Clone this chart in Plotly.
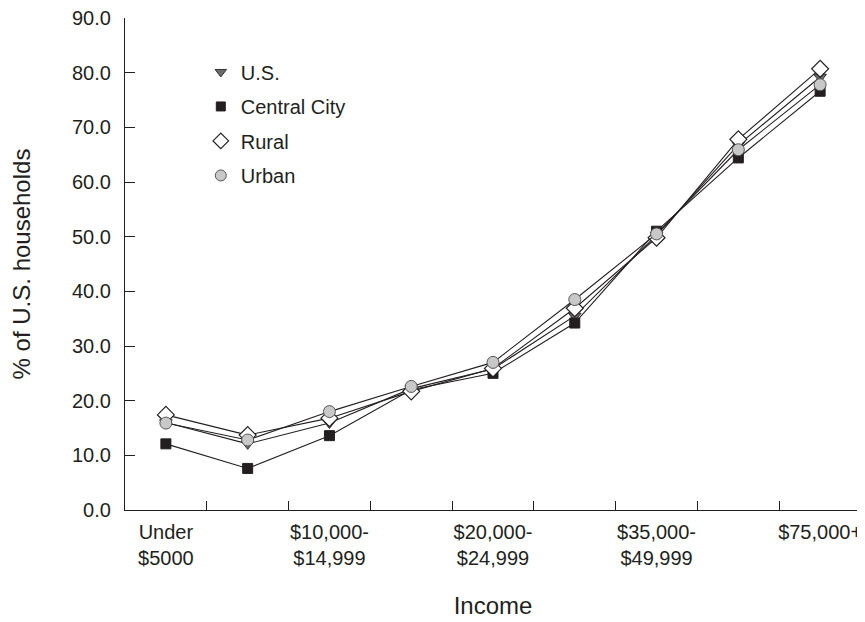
import plotly.graph_objects as go

categories = ["Under $5000", "$5000-$9,999", "$10,000-$14,999", "$15,000-$19,999",
              "$20,000-$24,999", "$25,000-$34,999", "$35,000-$49,999",
              "$50,000-$74,999", "$75,000+"]
tick_labels = ["Under<br>$5000", "", "$10,000-<br>$14,999", "", "$20,000-<br>$24,999",
               "", "$35,000-<br>$49,999", "", "$75,000+"]

us = [16.0, 12.1, 15.9, 22.2, 25.8, 35.5, 50.3, 66.8, 79.2]
central_city = [12.1, 7.6, 13.6, 22.0, 25.0, 34.2, 51.0, 64.4, 76.6]
rural = [17.4, 13.7, 16.8, 21.7, 25.9, 36.9, 49.8, 67.8, 80.7]
urban = [15.9, 12.8, 18.0, 22.6, 27.0, 38.5, 50.5, 65.9, 77.8]

ink = "#231f20"
series = [
    ("U.S.", us, dict(symbol="triangle-down", size=11, color="#6b6b6b", line=dict(color="#333333", width=1))),
    ("Central City", central_city, dict(symbol="square", size=10, color=ink, line=dict(color=ink, width=1))),
    ("Rural", rural, dict(symbol="diamond", size=13, color="#ffffff", line=dict(color=ink, width=1.2))),
    ("Urban", urban, dict(symbol="circle", size=12, color="#c8c8c8", line=dict(color="#555555", width=1))),
]

x = list(range(len(categories)))
fig = go.Figure()
for name, vals, mk in series:
    fig.add_trace(go.Scatter(x=x, y=vals, mode="lines+markers", name=name,
                             line=dict(color=ink, width=1.1), marker=mk,
                             showlegend=False, text=categories, hoverinfo="text+y"))
for name, vals, mk in series:
    lm = dict(mk)
    lm["size"] = mk["size"] - 1
    fig.add_trace(go.Scatter(x=[None], y=[None], mode="markers", name=name, marker=lm,
                             showlegend=True, legendgroup=name))

# page body has an 8px margin, so the figure is sized/offset to fit the 865x622 window
font = dict(family="Liberation Sans, Arial, Helvetica, sans-serif", size=20, color=ink)
fig.update_layout(
    width=857, height=614,
    margin=dict(l=117, r=4, t=10, b=112),
    paper_bgcolor="white", plot_bgcolor="white",
    font=font,
    showlegend=True,
    legend=dict(x=0.103, y=0.93, xanchor="left", yanchor="top", bgcolor="rgba(0,0,0,0)",
                font=dict(size=20), itemwidth=30, tracegroupgap=5.5),
    xaxis=dict(range=[-0.5, 8.5], tickmode="array", tickvals=x, ticktext=tick_labels,
               ticks="", showgrid=False, zeroline=False, showline=True, automargin=False,
               linecolor=ink, linewidth=1.3, ticklabelstandoff=4, ticklabeloverflow="allow",
               minor=dict(tickmode="array", tickvals=[i + 0.5 for i in x], ticks="inside",
                          ticklen=9, tickcolor=ink, tickwidth=1.2, showgrid=False),
               title=dict(text="Income", standoff=29)),
    yaxis=dict(range=[0, 90], tickmode="array", tickvals=list(range(0, 91, 10)),
               ticktext=[f"{v:.1f}" for v in range(0, 91, 10)],
               ticks="inside", ticklen=10, tickcolor=ink, tickwidth=1.2, automargin=False,
               showgrid=False, zeroline=False, showline=True, linecolor=ink, linewidth=1.3,
               ticklabelstandoff=9, ticklabeloverflow="allow",
               title=dict(text="% of U.S. households", standoff=35)),
)
fig.write_html("out.html")
